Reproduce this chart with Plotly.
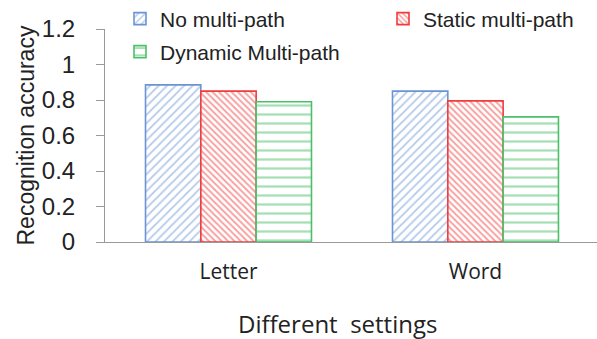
import plotly.graph_objects as go

categories = ["Letter", "Word"]
no_multipath = [0.885, 0.85]
static_multipath = [0.85, 0.795]
dynamic_multipath = [0.79, 0.705]

W, H = 597, 339
series = [
    ("No multi-path", no_multipath, "#6a94d4", "/", 6, 0.3, "legend", 120, 19),
    ("Static multi-path", static_multipath, "#f03c3c", "\\", 4.5, 0.4, "legend2", 383, 19),
    ("Dynamic Multi-path", dynamic_multipath, "#4cbf6a", "-", 9, 0.25, "legend3", 120, 52),
]

fig = go.Figure()
legends = {}
for name, vals, col, shape, psize, sol, lg, lx, ly in series:
    fig.add_trace(go.Bar(
        name=name, x=categories, y=vals, legend=lg,
        marker=dict(color="white", line=dict(color=col, width=1.6),
                    pattern=dict(shape=shape, fgcolor=col, bgcolor="white",
                                 size=psize, solidity=sol)),
    ))
    legends[lg] = dict(xref="container", yref="container",
                       x=lx / W, y=1 - ly / H, xanchor="left", yanchor="middle",
                       font=dict(size=21, family="Liberation Sans, Arial", color="#222"),
                       bgcolor="rgba(0,0,0,0)", itemwidth=30)

fig.update_layout(
    width=W, height=H,
    margin=dict(l=105, r=0, t=29, b=97, autoexpand=False),
    paper_bgcolor="white", plot_bgcolor="white",
    barmode="group", bargap=0.328, bargroupgap=0,
    font=dict(family="Liberation Sans, Arial", color="#222"),
    showlegend=True,
    xaxis=dict(showline=True, linecolor="#999", linewidth=1, ticks="",
               range=[-0.5, 1.492], ticklabelstandoff=11,
               tickfont=dict(size=21, family="Open Sans", color="#222")),
    yaxis=dict(range=[0, 1.2], dtick=0.2, showgrid=False, zeroline=False,
               showline=True, linecolor="#999", linewidth=1,
               ticks="outside", ticklen=8, tickcolor="#999", ticklabelstandoff=16,
               tickfont=dict(size=24, color="#222"), tickformat="~g"),
    annotations=[
        dict(text="Recognition accuracy", xref="paper", yref="paper",
             x=0, y=0.5, xanchor="center", yanchor="middle",
             xshift=-80, textangle=-90, showarrow=False,
             font=dict(size=23, color="#222", family="Liberation Sans, Arial")),
        dict(text="Different  settings", xref="paper", yref="paper",
             x=0.5, y=0, xanchor="center", yanchor="middle",
             xshift=-14, yshift=-81, showarrow=False,
             font=dict(size=24, color="#222", family="Open Sans")),
    ],
    **legends,
)

fig.write_html("out.html", config={"displayModeBar": False},
               post_script="document.body.style.margin='0';")
